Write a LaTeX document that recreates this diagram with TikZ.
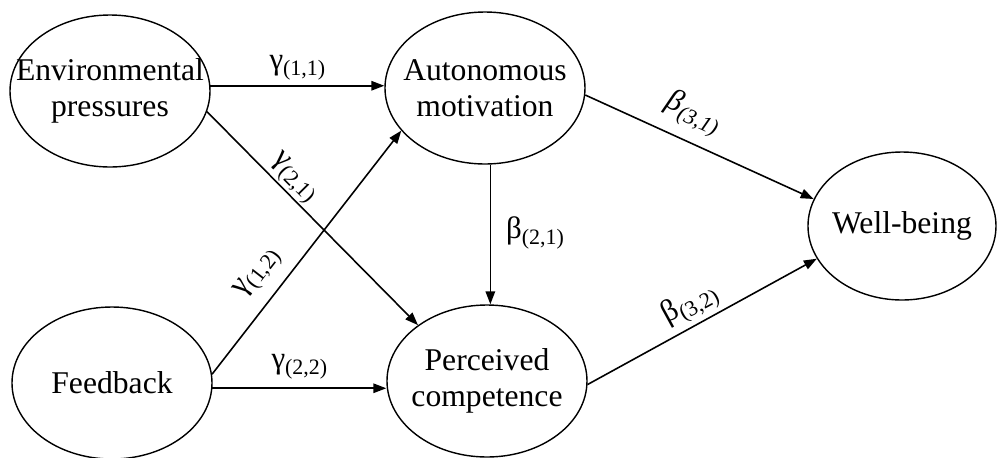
\documentclass[tikz,border=0pt]{standalone}
\usepackage{fontspec}
\setmainfont{Liberation Serif}
\usetikzlibrary{shapes.geometric,arrows.meta}

\newcommand{\lsub}[1]{\raisebox{-0.2em}{\fontsize{12.5}{12.5}\selectfont #1}}

\begin{document}
\begin{tikzpicture}[x=1cm,y=1cm,
  latent/.style={ellipse,draw,line width=0.8pt,minimum width=4cm,minimum height=3.04cm,
    inner ysep=0pt,inner xsep=-0.6cm,align=center,font=\fontsize{18}{20.4}\selectfont},
  path/.style={line width=0.9pt,-{Triangle[length=0.26cm,width=0.19cm]}},
  coef/.style={font=\fontsize{17.6}{20}\selectfont,inner sep=0pt}]
\useasboundingbox (0,0) rectangle (19.96,-9.14);
% latent variables
\node[latent] (env) at (2.2,-1.82) {Environmental\\pressures};
\node[latent] (aut) at (9.7,-1.76) {Autonomous\\motivation};
\node[latent] (fb) at (2.24,-7.66) {Feedback};
\node[latent] (perc) at (9.74,-7.62) {Perceived\\competence};
\node[latent,minimum width=3.76cm,minimum height=2.96cm] (well) at (18.04,-4.52) {Well-being};
% gamma paths
\draw[path] (env.3) -- node[coef,above=0.1cm] {γ\lsub{(1,1)}} (env.3 -| aut.west);
\draw[path] (env.-12) -- node[coef,pos=0.36,sloped,above=0.02cm] {γ\lsub{(2,1)}} (perc.141);
\draw[path] (fb.5) -- node[coef,pos=0.35,sloped,above=0.24cm] {γ\lsub{(1,2)}} (aut.207);
\draw[path] (fb.-3) -- node[coef,above=0.16cm] {γ\lsub{(2,2)}} (fb.-3 -| perc.west);
% beta paths
\draw[path] (aut.-86) -- node[coef,pos=0.49,right=0.3cm] {β\lsub{(2,1)}} (aut.-86 |- perc.north);
\draw[path] (aut.-4) -- node[coef,pos=0.42,sloped,above=0.22cm] {\itshape β\lsub{(3,1)}} (well.163);
\draw[path] (perc.-2) -- node[coef,pos=0.49,sloped,above=0.08cm] {β\lsub{(3,2)}} (well.201);
\end{tikzpicture}
\end{document}
